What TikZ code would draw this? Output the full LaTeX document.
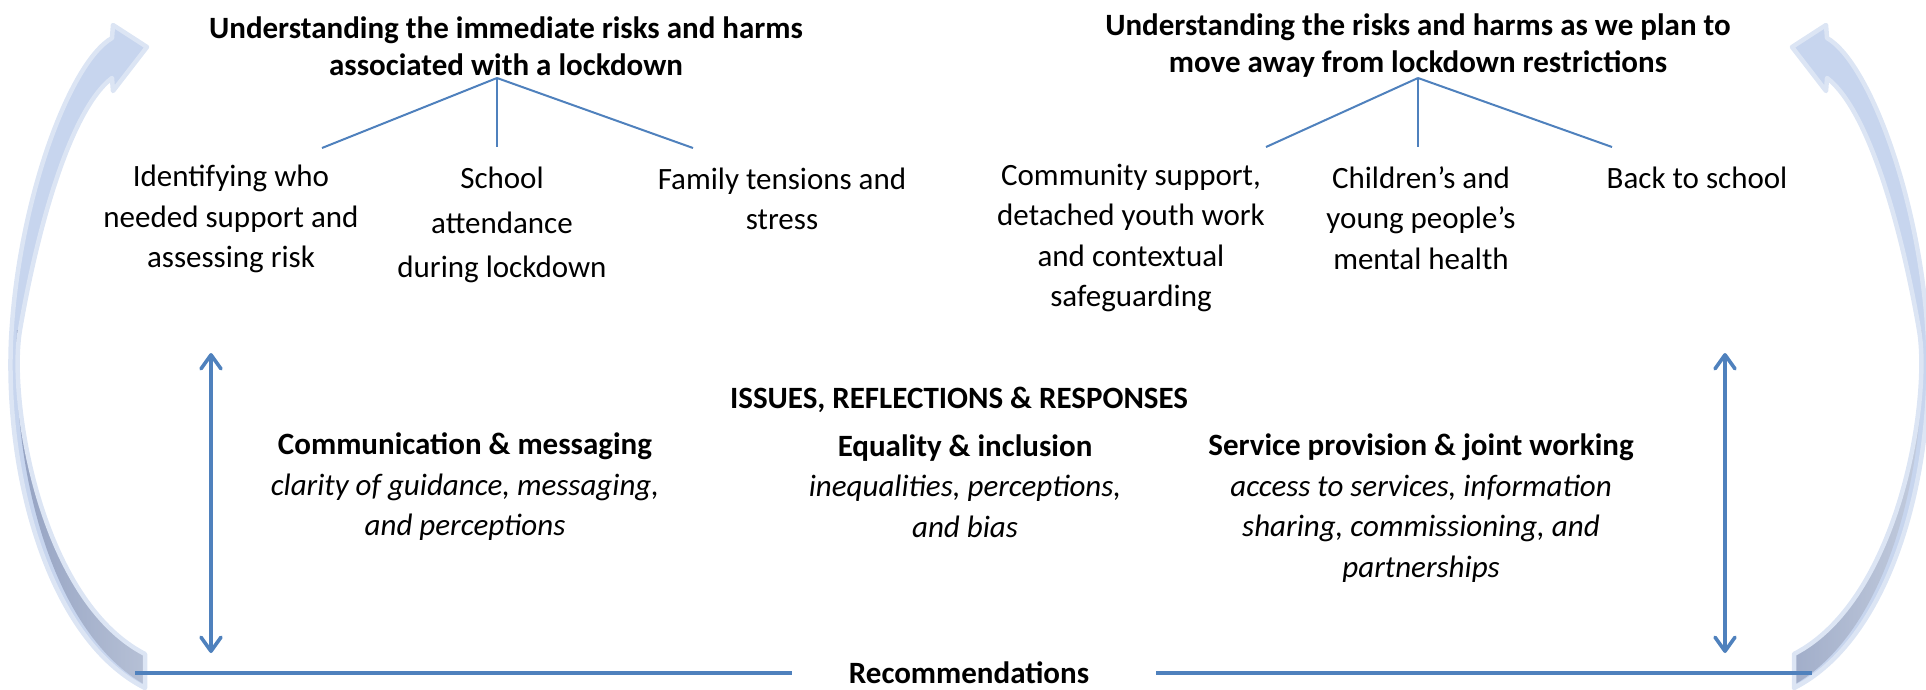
\documentclass[tikz,border=0pt]{standalone}
\usepackage{fontspec}
\setmainfont{Carlito}
\usetikzlibrary{arrows.meta}

\definecolor{linkblue}{HTML}{4F81BD}
\definecolor{bandfill}{HTML}{C7D5EE}
\definecolor{bandedge}{HTML}{DCE5F4}
\definecolor{banddark}{HTML}{93A1C1}
\definecolor{banddarklight}{HTML}{C4CDDE}

% outline of the sweeping return arrow (left-hand copy; the right one is mirrored)
\newcommand\curvedband{(145,654) .. controls (40,600) and (8,400) .. (20,330)
  .. controls (37,230) and (70,110) .. (112,78) -- (113,91) -- (147,47)
  -- (113,25) -- (112,38) .. controls (70,62) and (18,200) .. (11,340)
  .. controls (5,480) and (50,640) .. (145,688) -- cycle}
\newcommand\bandunderside{(17,330) .. controls (11,480) and (56,640) .. (151,688)
  -- (200,689) -- (200,330) -- cycle}

\tikzset{
  txt/.style={align=center, font=\fontsize{31}{40.5}\selectfont, inner sep=0pt},
  ttl/.style={align=center, font=\fontsize{31}{37}\selectfont\bfseries, inner sep=0pt},
  tree/.style={draw=linkblue, line width=2pt},
  rule/.style={draw=linkblue, line width=3.3pt},
  updown/.style={draw=linkblue, line width=3.6pt,
    {Straight Barb[length=14pt,width=20pt,round]}-{Straight Barb[length=14pt,width=20pt,round]}},
}

\newcommand\returnarrow{%
  \fill[bandfill] \curvedband;
  \begin{scope}
    \clip \curvedband;
    \shade[left color=banddark, right color=banddarklight] \bandunderside;
  \end{scope}
  \draw[bandedge, line width=4.5pt, line join=round] \curvedband;
}

\begin{document}
\begin{tikzpicture}[x=1pt, y=-1pt]
\useasboundingbox (0,0) rectangle (1926,689);

% return arrows on both sides
\begin{scope}
  \returnarrow
\end{scope}
\begin{scope}[shift={(1939,0)}, xscale=-1]
  \returnarrow
\end{scope}

% headings
\node[ttl] (riskL) at (506,46) {Understanding the immediate risks and harms\\associated with a lockdown};
\node[ttl] (riskR) at (1418,46) {Understanding the risks and harms as we plan to\\move away from lockdown restrictions};

% first-phase topics
\node[txt] (idw) at (231,219) {Identifying who\\needed support and\\assessing risk};
\node[txt] (sch) at (502,225) {School\\[4pt]attendance\\[4pt]during lockdown};
\node[txt] (fam) at (782,199) {Family tensions and\\stress};

% second-phase topics
\node[txt] (com) at (1131,238) {Community support,\\detached youth work\\and contextual\\safeguarding};
\node[txt] (cyp) at (1421,218) {Children’s and\\young people’s\\mental health};
\node[txt] (bts) at (1697,178) {Back to school};

% tree connectors
\coordinate (apexL) at (497,78);
\coordinate (endL1) at (322,148);
\coordinate (endL2) at (497,147);
\coordinate (endL3) at (693,148);
\draw[tree] (apexL) -- (endL1);
\draw[tree] (apexL) -- (endL2);
\draw[tree] (apexL) -- (endL3);

\coordinate (apexR) at (1418,78);
\coordinate (endR1) at (1266,147);
\coordinate (endR2) at (1418,147);
\coordinate (endR3) at (1612,147);
\draw[tree] (apexR) -- (endR1);
\draw[tree] (apexR) -- (endR2);
\draw[tree] (apexR) -- (endR3);

% cross-cutting themes
\node[ttl] (irr) at (959,400) {ISSUES, REFLECTIONS \& RESPONSES};
\node[txt] (cm) at (465,487) {\textbf{Communication \& messaging}\\\textit{clarity of guidance, messaging,}\\\textit{and perceptions}};
\node[txt] (eq) at (965,486) {\textbf{Equality \& inclusion}\\\textit{inequalities, perceptions,}\\\textit{and bias}};
\node[txt] (sp) at (1421,508) {\textbf{Service provision \& joint working}\\\textit{access to services, information}\\\textit{sharing, commissioning, and}\\\textit{partnerships}};

% vertical double arrows
\coordinate (upL) at (211,353);
\coordinate (dnL) at (211,653);
\coordinate (upR) at (1725,353);
\coordinate (dnR) at (1725,653);
\draw[updown] (dnL) -- (upL);
\draw[updown] (dnR) -- (upR);

% recommendations baseline
\node[ttl] (rec) at (969,673) {Recommendations};
\coordinate (lineLa) at (135,673);
\coordinate (lineLb) at (792,673);
\coordinate (lineRa) at (1156,673);
\coordinate (lineRb) at (1812,673);
\draw[rule] (lineLa) -- (lineLb);
\draw[rule] (lineRa) -- (lineRb);
\end{tikzpicture}
\end{document}
